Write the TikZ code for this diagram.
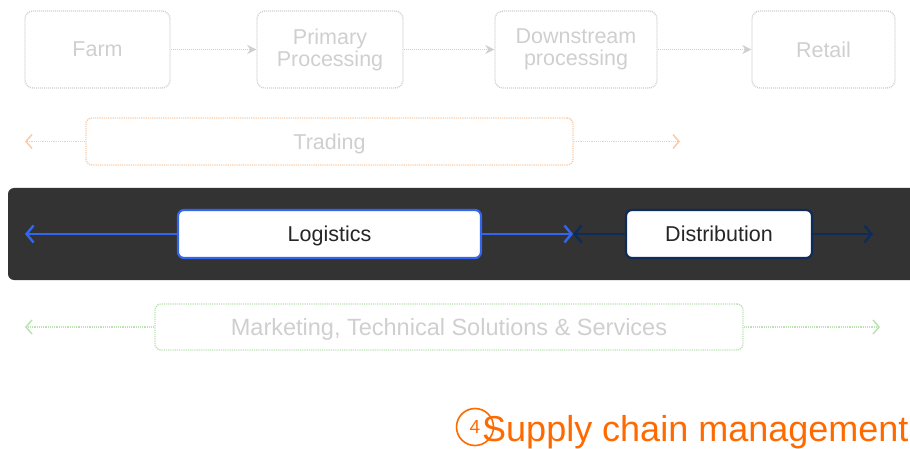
\documentclass[tikz,border=0pt]{standalone}
\usepackage{fontspec}
\setmainfont{Liberation Sans}
\usetikzlibrary{arrows.meta}
\definecolor{fadegray}{HTML}{CFCFCF}
\definecolor{fadetext}{HTML}{CFCFCF}
\definecolor{fadeorange}{HTML}{FBCBA8}
\definecolor{fadegreen}{HTML}{BBE2B3}
\definecolor{bandgray}{HTML}{333333}
\definecolor{logblue}{HTML}{3366EE}
\definecolor{distnavy}{HTML}{0E2C5A}
\definecolor{scmorange}{HTML}{FF6A00}
\tikzset{
  lbl/.style={font=\fontsize{21.5}{24}\selectfont, align=center},
  oneline/.style={text depth=0pt},
  stagebox/.style={draw=fadegray, rounded corners=8pt, line width=1.4pt,
    dash pattern=on 1pt off 1pt, text=fadetext, lbl},
  stagearrow/.style={draw=fadegray, line width=1.5pt, dash pattern=on 1pt off 1pt,
    -{Stealth[length=9pt,width=9pt]}},
  tradebox/.style={draw=fadeorange, rounded corners=6pt, line width=1.4pt,
    dash pattern=on 1.2pt off 1pt, text=fadetext, lbl},
  tradearrow/.style={draw=fadeorange, line width=1.5pt, dash pattern=on 1.2pt off 1pt,
    -{Straight Barb[length=6pt,width=14pt]}},
  mktbox/.style={draw=fadegreen, rounded corners=6pt, line width=1.4pt,
    dash pattern=on 1.2pt off 1pt, text=fadetext, lbl},
  mktarrow/.style={draw=fadegreen, line width=1.5pt, dash pattern=on 1.2pt off 1pt,
    -{Straight Barb[length=6pt,width=14pt]}},
  bandbox/.style={fill=white, rounded corners=6pt, line width=2.2pt, text=black!85, lbl, oneline},
  bandarrow/.style={line width=2.4pt, -{Straight Barb[length=7pt,width=17pt]}}
}
\begin{document}
\begin{tikzpicture}[x=1pt,y=-1pt]
  \useasboundingbox (0,0) rectangle (910,449);

  % value chain stages
  \node[stagebox, oneline, minimum width=145pt, minimum height=77pt] (farm) at (97.5,49.5) {Farm};
  \node[stagebox, minimum width=146pt, minimum height=77pt] (prim) at (330,49.5) {Primary\\[-2pt]Processing};
  \node[stagebox, minimum width=162pt, minimum height=77pt] (down) at (576,49.5) {Downstream\\[-2pt]processing};
  \node[stagebox, oneline, minimum width=143pt, minimum height=77pt] (retail) at (823.5,49.5) {Retail};
  \draw[stagearrow] (farm) -- (prim);
  \draw[stagearrow] (prim) -- (down);
  \draw[stagearrow] (down) -- (retail);

  % trading
  \node[tradebox, oneline, minimum width=487pt, minimum height=47pt] (trade) at (329.5,141.5) {Trading};
  \coordinate (tradeL) at (25,141.5);
  \coordinate (tradeR) at (680,141.5);
  \draw[tradearrow] (trade.west) -- (tradeL);
  \draw[tradearrow] (trade.east) -- (tradeR);

  % highlighted band
  \fill[bandgray, rounded corners=6pt] (8,188) rectangle (916,280);
  \node[bandbox, draw=logblue, minimum width=303pt, minimum height=48pt] (logi) at (329.5,234) {Logistics};
  \node[bandbox, draw=distnavy, minimum width=186pt, minimum height=48pt] (dist) at (719,234) {Distribution};
  \coordinate (logL) at (25,234);
  \coordinate (mid) at (573,234);
  \coordinate (distR) at (873,234);
  \draw[bandarrow, logblue] (logi.west) -- (logL);
  \draw[bandarrow, logblue] (logi.east) -- (mid);
  \draw[bandarrow, distnavy] (dist.west) -- (mid);
  \draw[bandarrow, distnavy] (dist.east) -- (distR);

  % marketing
  \node[mktbox, oneline, minimum width=588pt, minimum height=46pt,
        font=\fontsize{23.5}{26}\selectfont] (mkt) at (449,327) {Marketing, Technical Solutions \& Services};
  \coordinate (mktL) at (25,327);
  \coordinate (mktR) at (880,327);
  \draw[mktarrow] (mkt.west) -- (mktL);
  \draw[mktarrow] (mkt.east) -- (mktR);

  % title
  \node[circle, draw=scmorange, line width=1.6pt, minimum size=37pt, inner sep=0pt,
        text=scmorange, font=\fontsize{19}{21}\selectfont] (num) at (475,427) {4};
  \node[anchor=base west, inner sep=0pt, text=scmorange,
        font=\fontsize{36}{40}\selectfont] (title) at (482,441) {Supply chain management};
\end{tikzpicture}
\end{document}
